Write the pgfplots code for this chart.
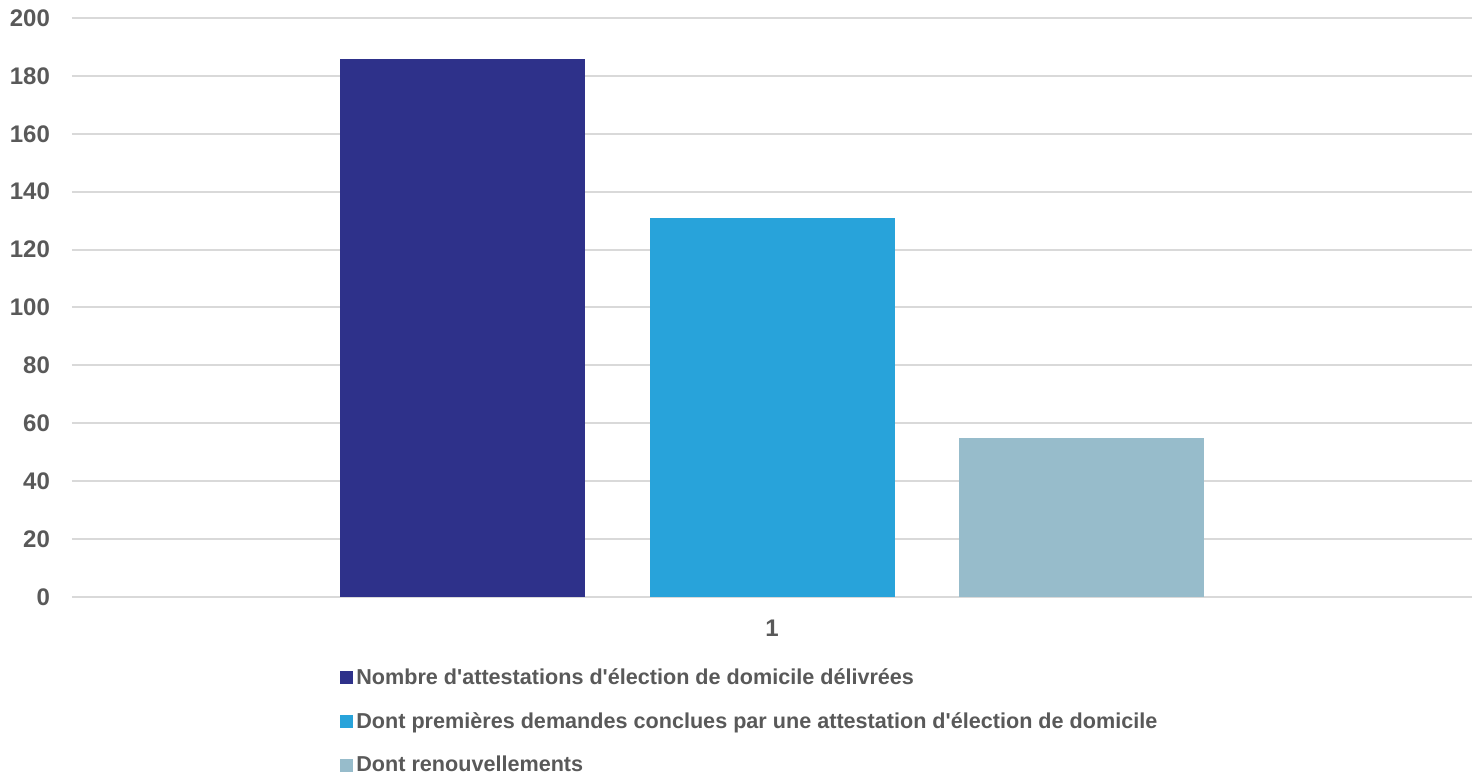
\documentclass[border=0pt]{standalone}
\usepackage{fontspec}
\setmainfont{Liberation Sans}
\usepackage{pgfplots}
\pgfplotsset{compat=1.18}
\definecolor{c1}{RGB}{46,49,138}
\definecolor{c2}{RGB}{40,163,218}
\definecolor{c3}{RGB}{151,188,203}
\definecolor{gridc}{RGB}{217,217,217}
\definecolor{textc}{RGB}{89,89,89}
\begin{document}
\begin{tikzpicture}
\begin{axis}[
  at={(0pt,0pt)}, anchor=south west,
  scale only axis, width=700pt, height=289.5pt,
  xmin=0.5, xmax=1.5, ymin=0, ymax=200,
  ytick={0,20,...,200}, xtick={1},
  ymajorgrids, grid style={color=gridc, line width=1pt},
  axis line style={draw=none}, tick style={draw=none},
  /pgf/number format/assume math mode=true,
  ticklabel style={font=\bfseries\fontsize{12}{14}\selectfont, text=textc},
  yticklabel style={xshift=-7.5pt},
  xticklabel style={yshift=-8pt},
  legend style={at={(0.1914,-0.1157)}, anchor=north west, draw=none, fill=none,
    inner sep=0pt, row sep=8.5pt,
    font=\bfseries\fontsize{10.8}{13}\selectfont, text=textc,
    nodes={inner xsep=1.5pt}},
  legend cell align=left,
  legend image code/.code={\fill[#1,draw=none] (0pt,-3.25pt) rectangle (6.5pt,3.25pt);},
]
\addplot[ybar, bar width=0.175, bar shift=-0.2214, fill=c1, draw=none] coordinates {(1,186)};
\addplot[ybar, bar width=0.175, bar shift=0, fill=c2, draw=none] coordinates {(1,131)};
\addplot[ybar, bar width=0.175, bar shift=0.2214, fill=c3, draw=none] coordinates {(1,55)};
\legend{Nombre d\textquotesingle attestations d\textquotesingle élection de domicile délivrées,
Dont premières demandes conclues par une attestation d\textquotesingle élection de domicile,
Dont renouvellements}
\end{axis}
\pgfresetboundingbox
\path[use as bounding box] (-36pt,-89.5pt) rectangle (705.5pt,298.5pt);
\end{tikzpicture}
\end{document}
